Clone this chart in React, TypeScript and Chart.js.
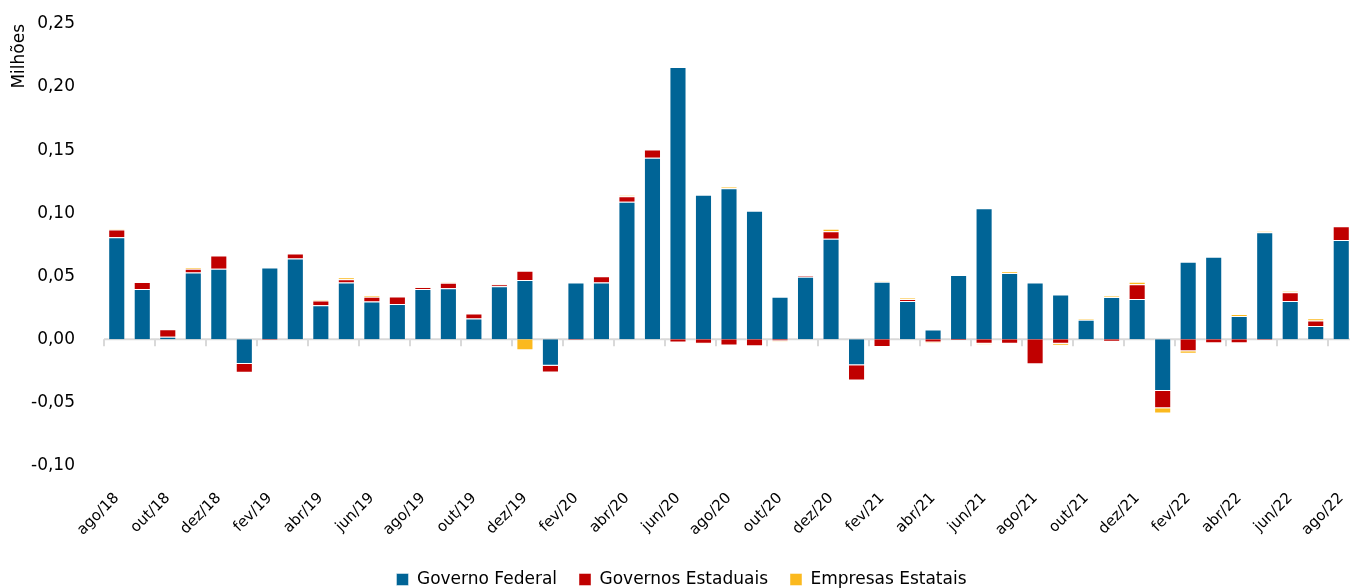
import React, { useEffect, useRef } from "react";
import { Chart, registerables } from "chart.js";

Chart.register(...registerables);

const categories = [
  "ago/18", "set/18", "out/18", "nov/18", "dez/18",
  "jan/19", "fev/19", "mar/19", "abr/19", "mai/19", "jun/19", "jul/19", "ago/19", "set/19", "out/19", "nov/19", "dez/19",
  "jan/20", "fev/20", "mar/20", "abr/20", "mai/20", "jun/20", "jul/20", "ago/20", "set/20", "out/20", "nov/20", "dez/20",
  "jan/21", "fev/21", "mar/21", "abr/21", "mai/21", "jun/21", "jul/21", "ago/21", "set/21", "out/21", "nov/21", "dez/21",
  "jan/22", "fev/22", "mar/22", "abr/22", "mai/22", "jun/22", "jul/22", "ago/22",
];

const governoFederal = [
  0.081, 0.040, 0.002, 0.053, 0.056,
  -0.0195, 0.057, 0.064, 0.027, 0.045, 0.030, 0.028, 0.040, 0.0406, 0.0165, 0.042, 0.047,
  -0.021, 0.045, 0.045, 0.109, 0.144, 0.216, 0.1146, 0.1198, 0.102, 0.0338, 0.0496, 0.0797,
  -0.0206, 0.0457, 0.0303, 0.0079, 0.051, 0.104, 0.0525, 0.045, 0.0356, 0.0156, 0.0335, 0.032,
  -0.041, 0.0615, 0.0655, 0.0185, 0.085, 0.0303, 0.0105, 0.0787,
];

const governosEstaduais = [
  0.006, 0.0055, 0.006, 0.003, 0.0105,
  -0.007, -0.0005, 0.004, 0.0037, 0.0026, 0.0037, 0.006, 0.0013, 0.0043, 0.004, 0.0016, 0.0073,
  -0.0053, -0.0008, 0.005, 0.0045, 0.0066, -0.0025, -0.0035, -0.0048, -0.0055, -0.0015, 0.001, 0.006,
  -0.012, -0.006, 0.0016, -0.0025, -0.001, -0.0035, -0.0034, -0.0198, -0.0035, 0.0, -0.002, 0.0116,
  -0.0137, -0.0095, -0.003, -0.003, -0.0005, 0.007, 0.0045, 0.011,
];

const empresasEstatais = [
  0.0005, 0, 0, 0.0013, 0,
  0, 0, 0, 0.001, 0.0016, 0.0013, 0, 0.0003, 0.0003, 0, 0.0006, -0.0087,
  0, 0, 0, 0.0008, 0, 0, -0.0005, 0.001, 0, -0.0005, 0, 0.002,
  0, 0.0003, 0.0008, -0.0008, 0, -0.0006, 0.0013, 0, -0.0015, 0.0008, 0.001, 0.002,
  -0.004, -0.002, 0, 0.0015, 0.0006, 0.001, 0.0018, 0,
];

const yTicks = { min: -0.1, max: 0.25, step: 0.05 };

const FONT = "'DejaVu Sans', sans-serif";

const zeroLinePlugin = {
  id: "zeroLine",
  beforeDatasetsDraw(chart: any) {
    const { ctx, chartArea, scales } = chart;
    const x = scales.x;
    const y = scales.y;
    const y0 = y.getPixelForValue(0);
    const half = (chartArea.right - chartArea.left) / categories.length / 2;
    ctx.save();
    ctx.strokeStyle = "#d9d9d9";
    ctx.lineWidth = 2;
    ctx.beginPath();
    ctx.moveTo(chartArea.left, y0);
    ctx.lineTo(chartArea.right, y0);
    ctx.stroke();
    for (const t of x.ticks) {
      const px = Math.round(x.getPixelForValue(t.value) - half);
      ctx.beginPath();
      ctx.moveTo(px, y0);
      ctx.lineTo(px, y0 + 7);
      ctx.stroke();
    }
    ctx.restore();
  },
};

export default function App() {
  const ref = useRef<HTMLCanvasElement | null>(null);

  useEffect(() => {
    if (!ref.current) return;
    const border = "rgba(255,255,255,0.45)";
    const common = { borderColor: border, borderWidth: 1, barPercentage: 0.67, categoryPercentage: 1 };
    const chart = new Chart(ref.current, {
      type: "bar",
      data: {
        labels: categories,
        datasets: [
          { label: "Governo Federal", data: governoFederal, backgroundColor: "#006496", ...common },
          { label: "Governos Estaduais", data: governosEstaduais, backgroundColor: "#c00000", ...common },
          { label: "Empresas Estatais", data: empresasEstatais, backgroundColor: "#fbb91e", ...common },
        ],
      },
      options: {
        animation: false,
        responsive: true,
        maintainAspectRatio: false,
        layout: { padding: { top: 24, left: 9, right: 0, bottom: 0 } },
        plugins: {
          tooltip: { enabled: false },
          legend: {
            position: "bottom",
            labels: {
              boxWidth: 12,
              boxHeight: 12,
              padding: 22,
              color: "#000",
              font: { family: FONT, size: 17 },
            },
          },
        },
        scales: {
          x: {
            stacked: true,
            offset: true,
            grid: { display: false },
            border: { display: false },
            afterFit: (s: any) => {
              s.paddingLeft = 0;
              s.paddingRight = 0;
              s.height = s.height - 6;
            },
            ticks: {
              autoSkip: true,
              maxTicksLimit: 25,
              minRotation: 45,
              maxRotation: 45,
              color: "#000",
              font: { family: FONT, size: 15 },
              padding: 16,
            },
          },
          y: {
            stacked: true,
            min: yTicks.min,
            max: yTicks.max,
            grid: { display: false },
            border: { display: false },
            afterFit: (s: any) => {
              s.width = 95;
              s.paddingTop = 0;
              s.paddingBottom = 0;
            },
            title: {
              display: true,
              text: "Milhões",
              align: "end",
              color: "#000",
              font: { family: FONT, size: 17 },
              padding: { top: 0, bottom: 0 },
            },
            ticks: {
              stepSize: yTicks.step,
              color: "#000",
              font: { family: FONT, size: 17 },
              padding: 21,
              callback: (v: any) => {
                const n = Math.round(Number(v) * 100) / 100;
                return (n === 0 ? 0 : n).toFixed(2).replace(".", ",");
              },
            },
          },
        },
      },
      plugins: [zeroLinePlugin],
    });
    return () => chart.destroy();
  }, []);

  return (
    <div style={{ position: "fixed", left: 0, top: 0, width: 1354, height: 598, background: "#fff" }}>
      <canvas ref={ref} />
    </div>
  );
}
